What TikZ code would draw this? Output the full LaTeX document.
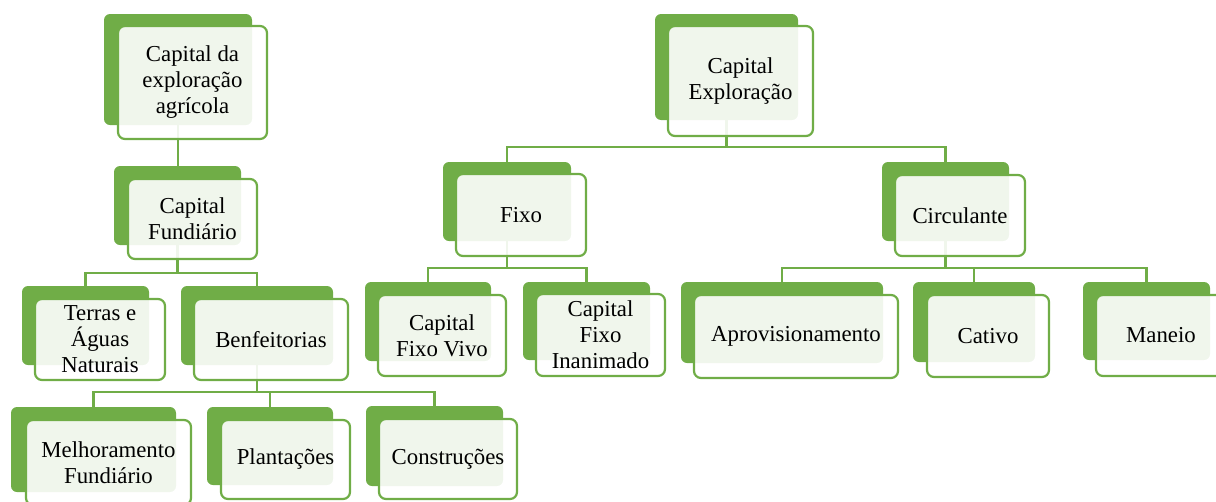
\documentclass[tikz,border=0pt]{standalone}
\usepackage{fontspec}
\setmainfont{Liberation Serif}
\definecolor{sgreen}{HTML}{70AD47}
\tikzset{
  backsty/.style={fill=sgreen, draw=none, rounded corners=6pt, inner sep=0pt, outer sep=0pt},
  frontsty/.style={draw=sgreen, line width=2.2pt, fill=white, fill opacity=0.9, text opacity=1,
    rounded corners=7pt, inner sep=0pt, outer sep=0pt, align=center,
    font=\fontsize{22.8}{26}\selectfont},
  conn/.style={draw=sgreen, line width=2.4pt}
}
\begin{document}
\begin{tikzpicture}[x=1pt,y=-1pt]
\useasboundingbox (0,0) rectangle (1216,501);
\clip (0,0) rectangle (1216,501);
% back shapes
\node[backsty, minimum width=148pt, minimum height=111pt] (A) at (178,69.5) {};
\node[backsty, minimum width=127pt, minimum height=79pt] (B) at (177.5,205.5) {};
\node[backsty, minimum width=127pt, minimum height=79pt] (C) at (85.5,325.5) {};
\node[backsty, minimum width=152pt, minimum height=79pt] (D) at (257,325.5) {};
\node[backsty, minimum width=165pt, minimum height=85pt] (E) at (93.5,449.5) {};
\node[backsty, minimum width=126pt, minimum height=78pt] (F) at (270,446) {};
\node[backsty, minimum width=137pt, minimum height=80pt] (G) at (434.5,446) {};
\node[backsty, minimum width=143pt, minimum height=106pt] (H) at (726.5,67) {};
\node[backsty, minimum width=128pt, minimum height=79pt] (I) at (507,201.5) {};
\node[backsty, minimum width=127pt, minimum height=79pt] (J) at (945.5,201.5) {};
\node[backsty, minimum width=126pt, minimum height=79pt] (K) at (428,321.5) {};
\node[backsty, minimum width=127pt, minimum height=78pt] (L) at (586.5,321) {};
\node[backsty, minimum width=202pt, minimum height=81pt] (M) at (782,322.5) {};
\node[backsty, minimum width=122pt, minimum height=80pt] (N) at (974,322) {};
\node[backsty, minimum width=127pt, minimum height=78pt] (O) at (1146.5,321) {};
% bar coordinates
\coordinate (bB) at (177.5,273);
\coordinate (bD) at (257,392);
\coordinate (bH) at (726.5,147);
\coordinate (bI) at (507,268);
\coordinate (bJ) at (945.5,268);
% connectors
\draw[conn] (A.south) -- (A.south |- B.north);
\draw[conn] (B.south) -- (bB) -| (C.north);
\draw[conn] (bB) -| (D.north);
\draw[conn] (D.south) -- (bD) -| (E.north);
\draw[conn] (bD) -| (F.north);
\draw[conn] (bD) -| (G.north);
\draw[conn] (H.south) -- (bH) -| (I.north);
\draw[conn] (bH) -| (J.north);
\draw[conn] (I.south) -- (bI) -| (K.north);
\draw[conn] (bI) -| (L.north);
\draw[conn] (J.south) -- (bJ) -| (M.north);
\draw[conn] (bJ) -| (N.north);
\draw[conn] (bJ) -| (O.north);
% front shapes
\node[frontsty, minimum width=149pt, minimum height=113pt] (Af) at (192.5,82.5) {Capital da\\exploração\\agrícola};
\node[frontsty, minimum width=129pt, minimum height=80pt] (Bf) at (192.5,219) {Capital\\Fundiário};
\node[frontsty, minimum width=130pt, minimum height=81pt] (Cf) at (100,339.5) {Terras e\\Águas\\Naturais};
\node[frontsty, minimum width=154pt, minimum height=81pt] (Df) at (271,339.5) {Benfeitorias};
\node[frontsty, minimum width=165pt, minimum height=85pt] (Ef) at (108.5,462.5) {Melhoramento\\Fundiário};
\node[frontsty, minimum width=129pt, minimum height=79pt] (Ff) at (285.5,459.5) {Plantações};
\node[frontsty, minimum width=138pt, minimum height=80pt] (Gf) at (448,459) {Construções};
\node[frontsty, minimum width=145pt, minimum height=110pt] (Hf) at (740.5,81) {Capital\\Exploração};
\node[frontsty, minimum width=130pt, minimum height=82pt] (If) at (521,215) {Fixo};
\node[frontsty, minimum width=130pt, minimum height=81pt] (Jf) at (960,215.5) {Circulante};
\node[frontsty, minimum width=128pt, minimum height=81pt] (Kf) at (442,335.5) {Capital\\Fixo Vivo};
\node[frontsty, minimum width=129pt, minimum height=82pt] (Lf) at (600.5,335) {Capital\\Fixo\\Inanimado};
\node[frontsty, minimum width=204pt, minimum height=83pt] (Mf) at (796,336.5) {Aprovisionamento};
\node[frontsty, minimum width=122pt, minimum height=82pt] (Nf) at (988,336) {Cativo};
\node[frontsty, minimum width=130pt, minimum height=81pt] (Of) at (1161,335.5) {Maneio};
\end{tikzpicture}
\end{document}
